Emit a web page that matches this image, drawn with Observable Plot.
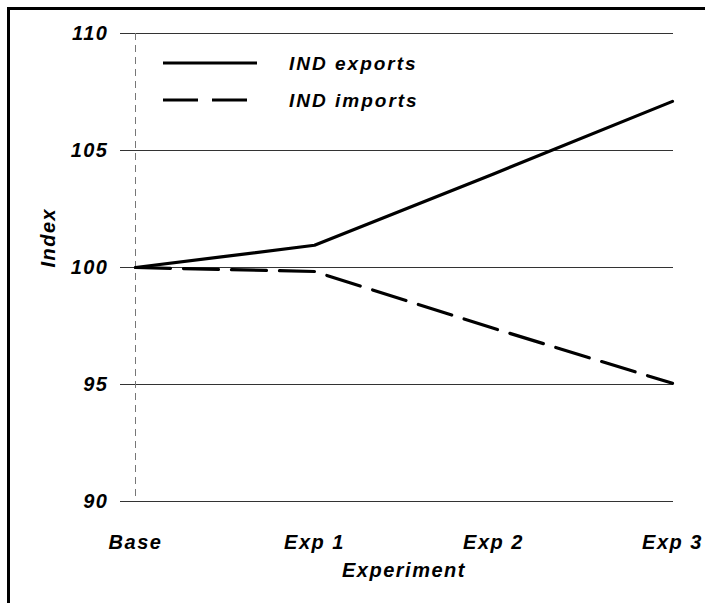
<!DOCTYPE html>
<html>
<head>
<meta charset="utf-8">
<script src="https://cdn.jsdelivr.net/npm/d3@7"></script>
<script src="https://cdn.jsdelivr.net/npm/@observablehq/plot@0.6"></script>
<style>
  html, body { margin: 0; padding: 0; background: #fff; }
  #wrap { position: relative; width: 705px; height: 603px; overflow: hidden; }
  #frame { position: absolute; left: 7px; top: 7px; width: 720px; height: 620px;
           border-left: 3px solid #000; border-top: 3px solid #000; pointer-events: none; }
  #legend { position: absolute; left: 0; top: 0; pointer-events: none; }
  svg text { font-family: "Liberation Sans", Arial, sans-serif; }
</style>
</head>
<body>
<div id="wrap">
  <div id="chart"></div>
  <div id="frame"></div>
</div>
<script>
const categories = ["Base", "Exp 1", "Exp 2", "Exp 3"];
const exportsIdx = [100, 100.95, 104.0, 107.1];
const importsIdx = [100, 99.83, 97.4, 95.05];
const yTicks = [90, 95, 100, 105, 110];
const seriesNames = ["IND exports", "IND imports"];
const xLabel = "Experiment";
const yLabel = "Index";

const exportsData = categories.map((c, i) => ({exp: c, value: exportsIdx[i]}));
const importsData = categories.map((c, i) => ({exp: c, value: importsIdx[i]}));

const font = {fontFamily: "Liberation Sans, Arial, sans-serif", fontStyle: "italic", fontWeight: "bold", fontSize: 20};

const chart = Plot.plot({
  width: 705,
  height: 603,
  marginLeft: 134,
  marginRight: 32,
  marginTop: 33,
  marginBottom: 102,
  style: {fontFamily: font.fontFamily, fontSize: "20px", background: "#fff", overflow: "visible"},
  x: {type: "point", domain: categories, padding: 0, axis: null},
  y: {domain: [90, 110], axis: null},
  marks: [
    Plot.gridY(yTicks, {stroke: "#333", strokeOpacity: 1, strokeWidth: 1}),
    Plot.ruleX([categories[0]], {stroke: "#777", strokeWidth: 1, strokeDasharray: "7,5"}),
    Plot.axisY({ticks: yTicks, tickSize: 14, tickPadding: 12, tickFormat: d => String(d),
      stroke: "#333", ...font, label: null}),
    Plot.axisX({tickSize: 0, tickPadding: 33, ...font, label: null}),
    Plot.text([xLabel], {frameAnchor: "bottom", dy: 75, ...font, fill: "#000"}),
    Plot.text([yLabel], {frameAnchor: "left", dx: -86, rotate: -90, ...font, fill: "#000"}),
    Plot.line(exportsData, {x: "exp", y: "value", stroke: "#000", strokeWidth: 3.2}),
    Plot.line(importsData, {x: "exp", y: "value", stroke: "#000", strokeWidth: 3.2, strokeDasharray: "35,13"})
  ]
});
chart.querySelectorAll("text").forEach(t => t.style.letterSpacing = "1.5px");
document.getElementById("chart").appendChild(chart);

// legend overlay
const lg = d3.select("#wrap").append("svg").attr("id", "legend").attr("width", 705).attr("height", 603);
const items = [
  {name: seriesNames[0], dash: null, y: 63},
  {name: seriesNames[1], dash: "35,14", y: 100}
];
items.forEach(it => {
  lg.append("line").attr("x1", 163).attr("x2", it.dash ? 248 : 257).attr("y1", it.y).attr("y2", it.y)
    .attr("stroke", "#000").attr("stroke-width", 3).attr("stroke-dasharray", it.dash);
  lg.append("text").attr("x", 289).attr("y", it.y).attr("dy", "0.36em")
    .attr("font-family", font.fontFamily).attr("font-style", "italic").attr("font-weight", "bold")
    .attr("font-size", 19).style("letter-spacing", "2px").text(it.name);
});
</script>
</body>
</html>
